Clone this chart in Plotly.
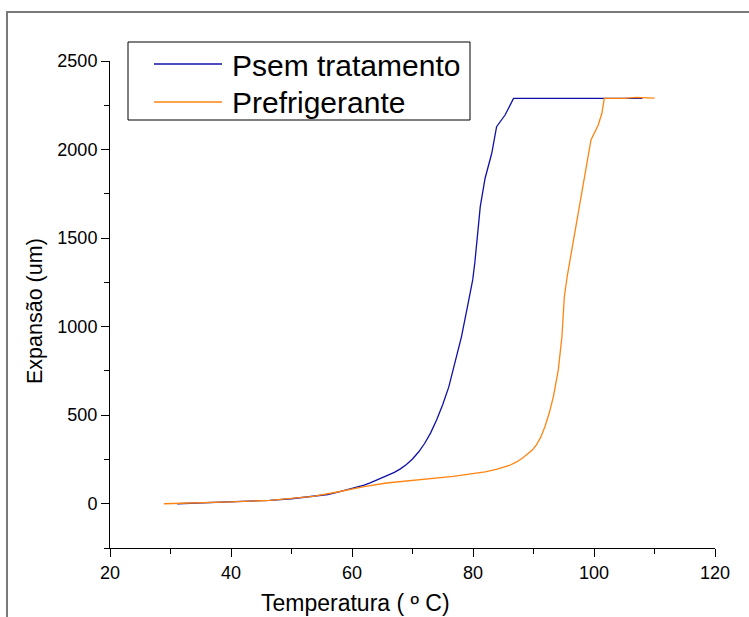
import plotly.graph_objects as go

# Data
temp_sem = [31.1, 35, 40, 46.4, 50, 53.6, 56, 58.0, 60, 62, 63, 64, 65, 66, 67, 68, 69, 70,
            71, 72, 73, 74, 75, 76, 77, 78.1, 79.2, 79.95, 80.3, 80.8, 81.2, 82.0, 83.1,
            83.9, 85.3, 86.7, 108]
exp_sem = [0, 5, 10, 19, 28, 41, 52, 69, 85, 105, 118, 132, 146, 161, 177, 197, 222, 253,
           292, 340, 400, 474, 560, 660, 790, 944, 1133, 1264, 1360, 1530, 1678, 1838, 1979,
           2129, 2195, 2289, 2289]

temp_ref = [28.9, 35, 40, 46.4, 53.6, 58.0, 60, 62, 65.7, 70, 76.7, 82, 84, 86, 87.2,
            88.2, 89.0, 89.8, 90.5, 91.2, 91.9, 92.6, 93.3, 94.1, 94.7, 95.1, 95.6, 97.1,
            98.0, 98.8, 99.5, 100.7, 101.3, 101.7, 105, 107, 108, 110]
exp_ref = [0, 4, 10, 19, 41, 69, 85, 97, 117, 133, 154, 180, 195, 216, 236,
           258, 279, 303, 333, 376, 436, 512, 606, 756, 944, 1170, 1290, 1584,
           1753, 1922, 2054, 2139, 2205, 2289, 2289, 2295, 2292, 2290]

series_names = ["Psem tratamento", "Prefrigerante"]
series_colors = ["#1010a8", "#ff8410"]

x_ticks = [20, 40, 60, 80, 100, 120]
y_ticks = [0, 500, 1000, 1500, 2000, 2500]

FONT = "Liberation Sans, Arial, sans-serif"

fig = go.Figure()
fig.add_trace(go.Scatter(x=temp_sem, y=exp_sem, mode="lines", name=series_names[0],
                         line=dict(color=series_colors[0], width=1.3), showlegend=False))
fig.add_trace(go.Scatter(x=temp_ref, y=exp_ref, mode="lines", name=series_names[1],
                         line=dict(color=series_colors[1], width=1.3), showlegend=False))

L, R, T, B = 110, 34, 61, 69
W, H = 749, 617
pw, ph = W - L - R, H - T - B

def px(x):
    return (x - L) / pw

def py(y):
    return (H - B - y) / ph

shapes = [
    # outer frame
    dict(type="rect", xref="paper", yref="paper", x0=px(7), x1=px(800), y0=py(700), y1=py(12),
         line=dict(color="#7a7a7a", width=2), fillcolor="rgba(0,0,0,0)", layer="below"),
    # legend box
    dict(type="rect", xref="paper", yref="paper", x0=px(128), x1=px(470), y0=py(120), y1=py(42),
         line=dict(color="black", width=1), fillcolor="white"),
]
annotations = []
leg_y = [64, 102]
for name, col, yy in zip(series_names, series_colors, leg_y):
    shapes.append(dict(type="line", xref="paper", yref="paper", x0=px(154), x1=px(222),
                       y0=py(yy), y1=py(yy), line=dict(color=col, width=1.3)))
    annotations.append(dict(text=name, xref="paper", yref="paper", x=px(230), y=py(yy + 1),
                            xanchor="left", yanchor="middle", showarrow=False,
                            font=dict(size=30, color="black", family=FONT)))

annotations.append(dict(text="Temperatura ( º C)", xref="paper", yref="paper",
                        x=px(355), y=py(603), xanchor="center", yanchor="middle",
                        showarrow=False, font=dict(size=23, color="black", family=FONT)))
annotations.append(dict(text="Expansão (um)", xref="paper", yref="paper",
                        x=px(35), y=py(311), xanchor="center", yanchor="middle", textangle=-90,
                        showarrow=False, font=dict(size=21.5, color="black", family=FONT)))

fig.update_layout(
    width=W, height=H,
    margin=dict(l=L, r=R, t=T, b=B, pad=0),
    paper_bgcolor="white", plot_bgcolor="white",
    font=dict(family=FONT, color="black", size=18),
    shapes=shapes, annotations=annotations,
    showlegend=False,
)
fig.update_xaxes(range=[20, 120], tickvals=x_ticks, ticks="outside", ticklen=8, tickwidth=1,
                 tickcolor="black", showline=True, linecolor="black", linewidth=1,
                 showgrid=False, zeroline=False, tickfont=dict(size=18),
                 minor=dict(ticks="outside", ticklen=5, dtick=10, tickcolor="black", showgrid=False))
fig.update_yaxes(range=[-250, 2500], tickvals=y_ticks, ticks="outside", ticklen=8, tickwidth=1,
                 tickcolor="black", showline=True, linecolor="black", linewidth=1,
                 showgrid=False, zeroline=False, tickfont=dict(size=18),
                 minor=dict(ticks="outside", ticklen=5, dtick=250, tick0=0, tickcolor="black", showgrid=False))

fig.write_html("out.html")
